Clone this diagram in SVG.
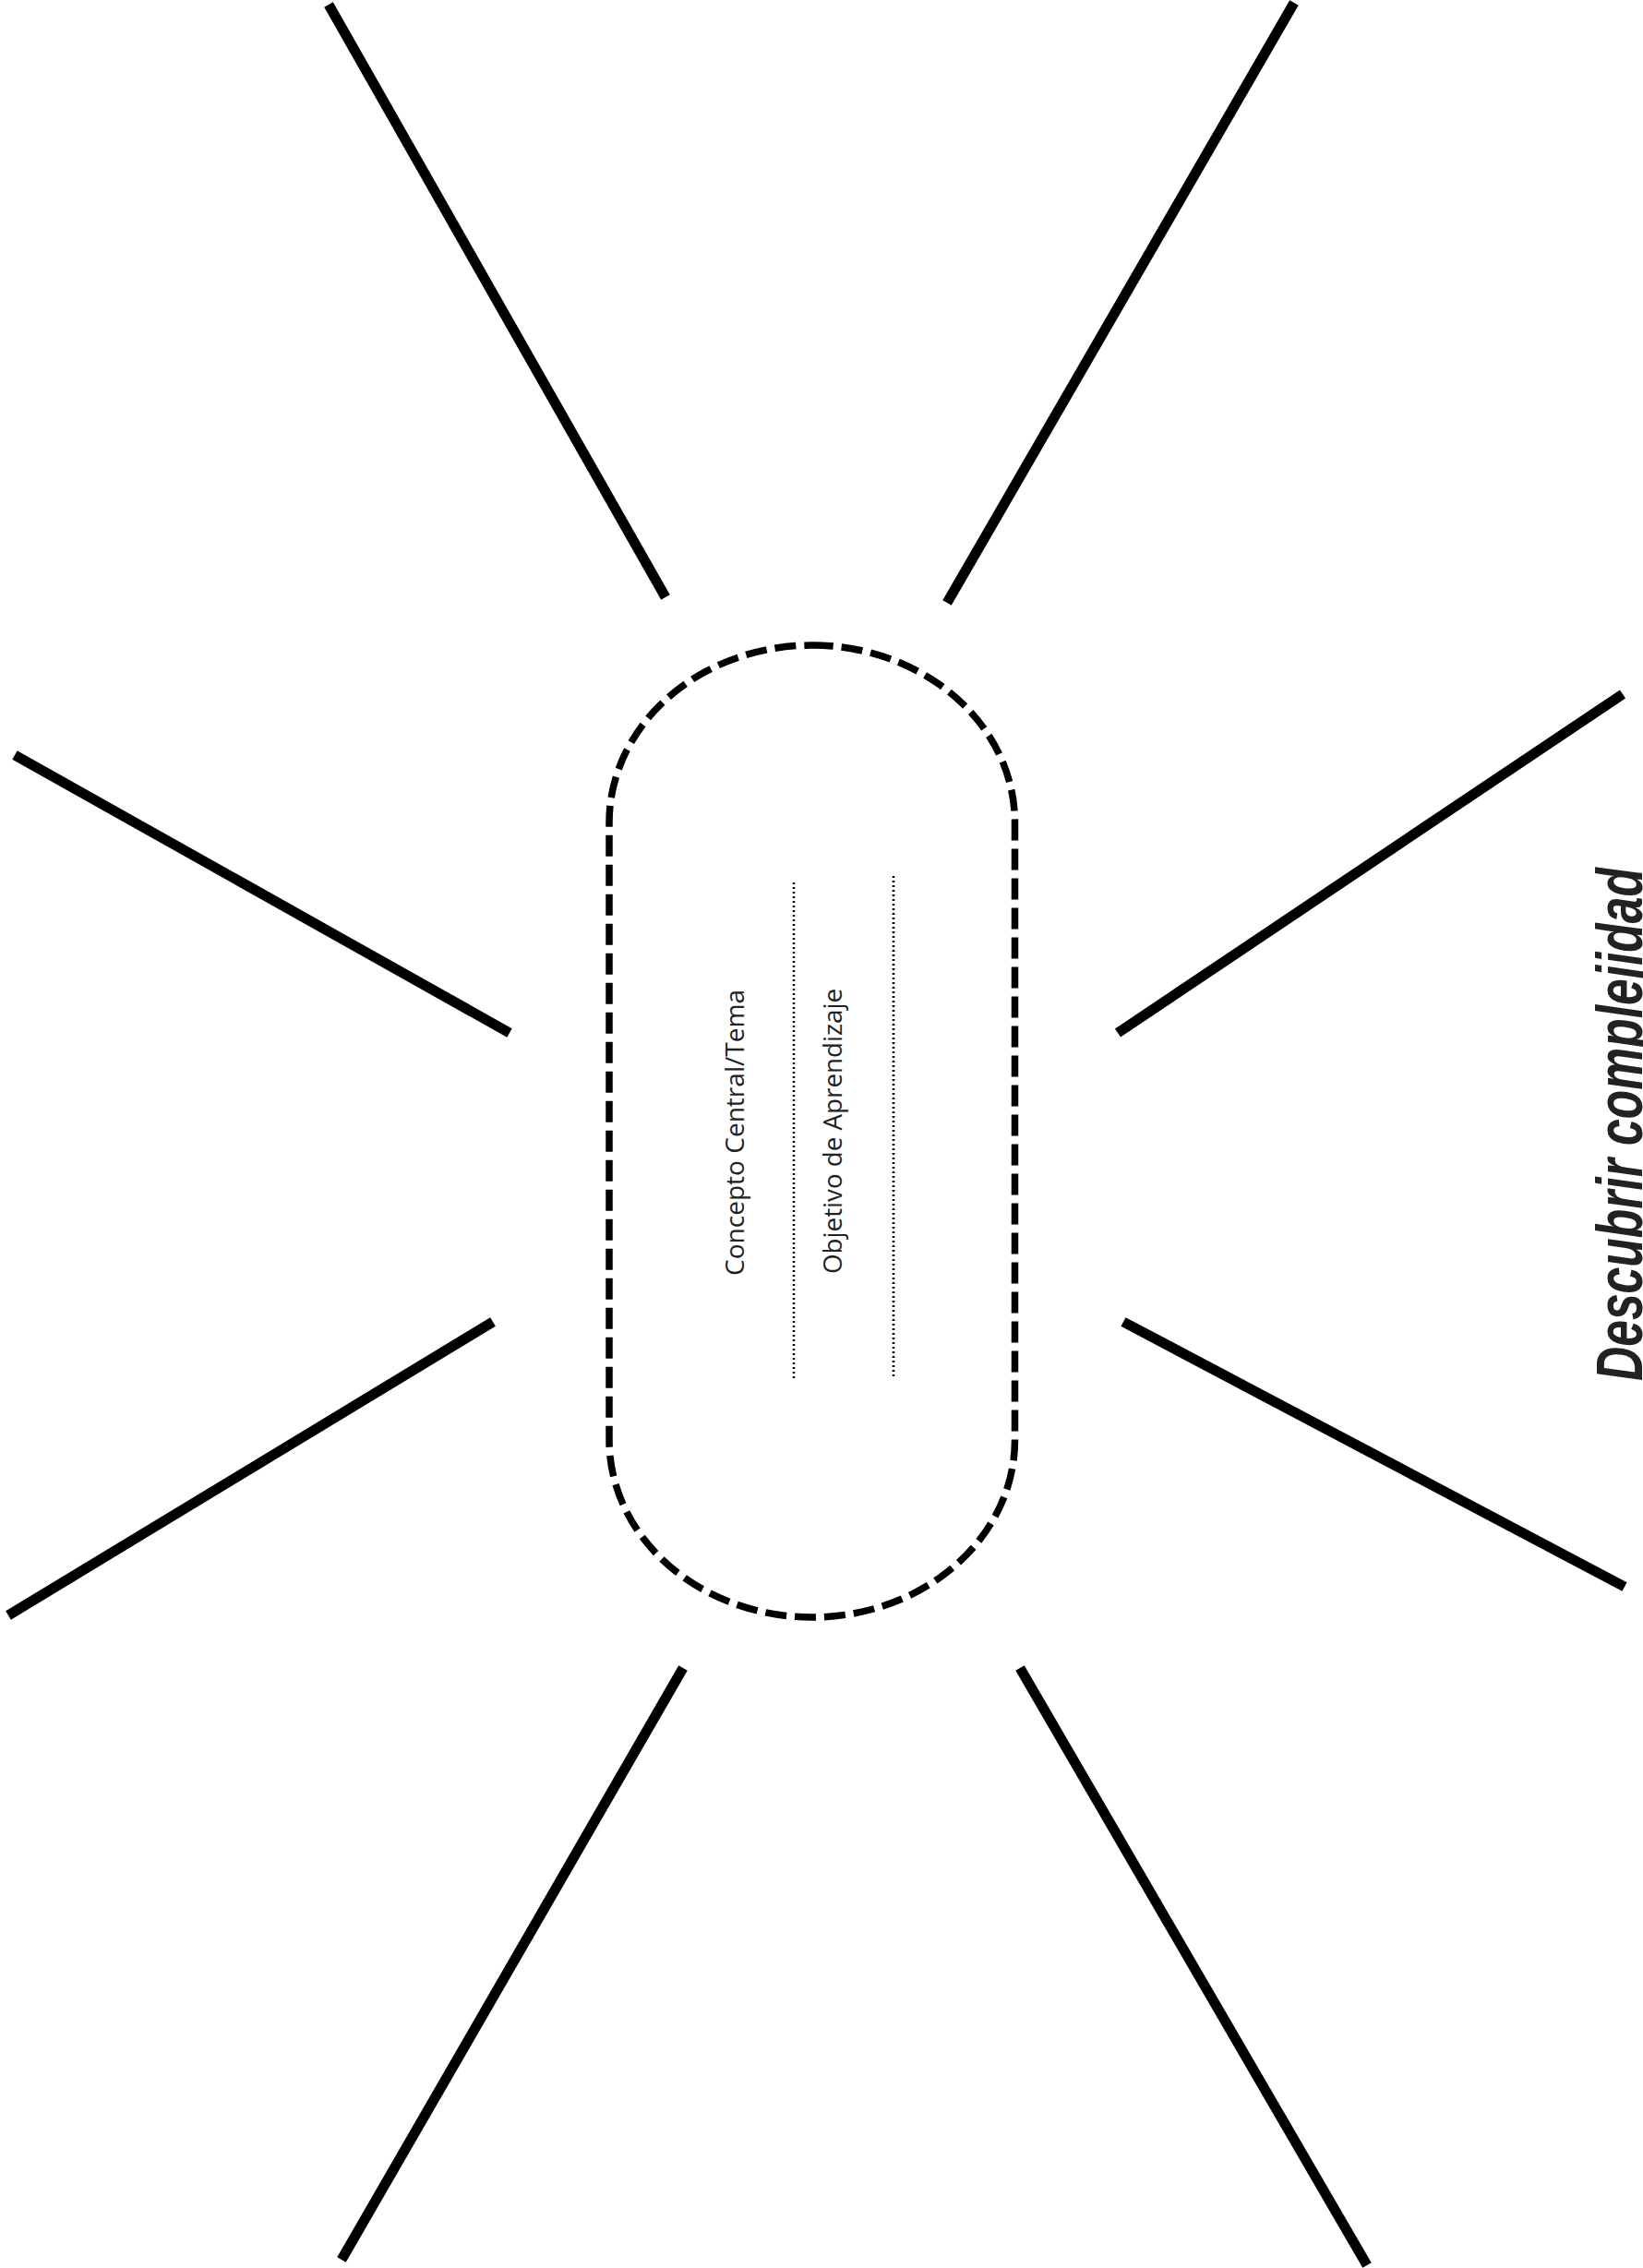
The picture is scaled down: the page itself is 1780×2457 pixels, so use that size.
<svg xmlns="http://www.w3.org/2000/svg" width="1780" height="2457" viewBox="0 0 1780 2457">
<style>
.ray{stroke:#000;stroke-width:11;stroke-linecap:butt;fill:none}
.outline{fill:none;stroke:#000;stroke-width:7.5;stroke-dasharray:23 9}
.dots{stroke:#000;stroke-width:2.5;stroke-dasharray:2 3;fill:none}
.lbl{font-family:"Open Sans","Noto Sans",sans-serif;font-size:27px;fill:#222}
.head{font-family:"Liberation Sans",Arial,sans-serif;font-size:70px;font-weight:bold;font-style:italic;fill:#222}
</style>
<rect width="1780" height="2457" fill="#fff"/>
<g id="connectors">
<line class="ray" x1="356" y1="5" x2="721" y2="647"/>
<line class="ray" x1="1402" y1="3" x2="1026" y2="653"/>
<line class="ray" x1="16" y1="818" x2="552" y2="1119"/>
<line class="ray" x1="1758" y1="752" x2="1211" y2="1119"/>
<line class="ray" x1="534" y1="1432" x2="9" y2="1750"/>
<line class="ray" x1="1217" y1="1432" x2="1760" y2="1719"/>
<line class="ray" x1="740" y1="1807" x2="370" y2="2448"/>
<line class="ray" x1="1105" y1="1807" x2="1481" y2="2454"/>
</g>
<g id="center">
<rect class="outline" x="660" y="699" width="439.5" height="1053" rx="219.75" ry="192"/>
<line class="dots" x1="860" y1="956" x2="860" y2="1496"/>
<line class="dots" x1="968" y1="949" x2="968" y2="1493"/>
<text class="lbl" transform="translate(806,1382) rotate(-90)" textLength="310" lengthAdjust="spacingAndGlyphs">Concepto Central/Tema</text>
<text class="lbl" transform="translate(912,1380) rotate(-90)" textLength="309" lengthAdjust="spacingAndGlyphs">Objetivo de Aprendizaje</text>
</g>
<g id="heading">
<text class="head" transform="translate(1779,1496) rotate(-90)" textLength="556" lengthAdjust="spacingAndGlyphs">Descubrir complejidad</text>
</g>
</svg>
